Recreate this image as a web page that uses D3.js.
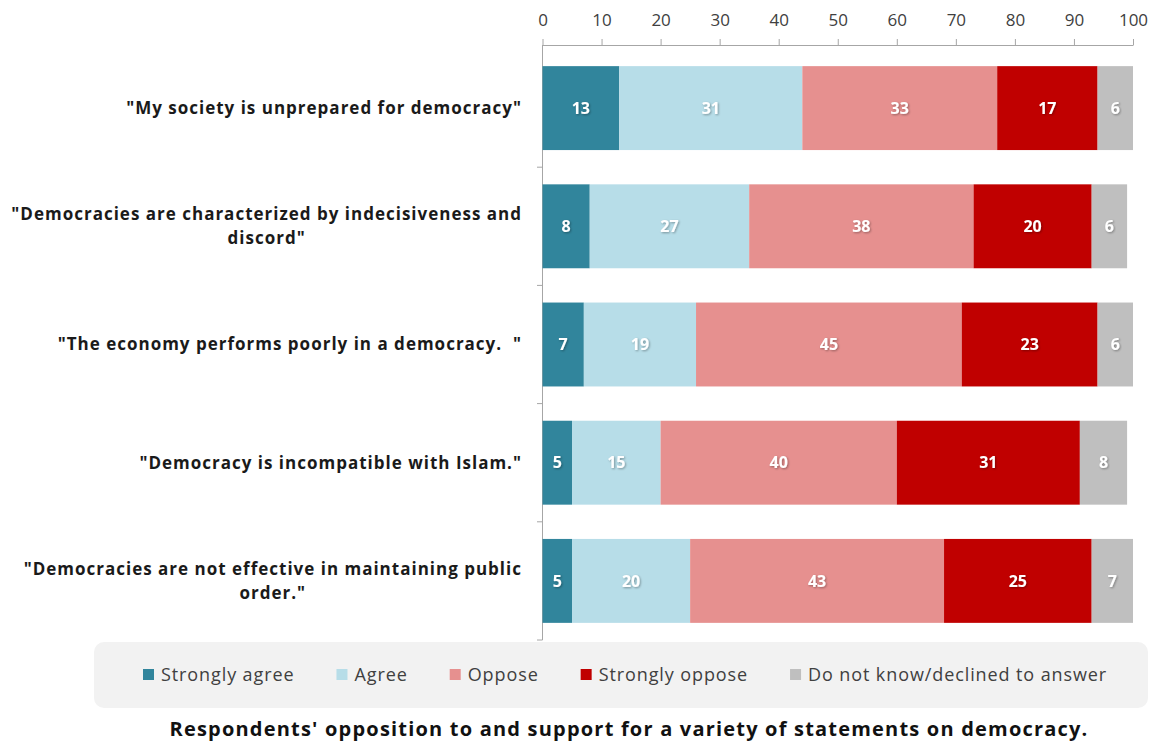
<!DOCTYPE html>
<html>
<head>
<meta charset="utf-8">
<script src="https://cdn.jsdelivr.net/npm/d3@7"></script>
<style>
  html, body { margin: 0; padding: 0; background: #fff; }
  svg { display: block; }
</style>
</head>
<body>
<svg id="chart" width="1158" height="742"></svg>
<script>
// Survey statements (one bar each)
const statements = [
  ["\"My society is unprepared for democracy\""],
  ["\"Democracies are characterized by indecisiveness and", "discord\""],
  ["\"The economy performs poorly in a democracy.  \""],
  ["\"Democracy is incompatible with Islam.\""],
  ["\"Democracies are not effective in maintaining public", "order.\""]
];

// Response categories, in stacking order
const responses = ["Strongly agree", "Agree", "Oppose", "Strongly oppose", "Do not know/declined to answer"];
const responseColors = ["#31859c", "#b7dde8", "#e6908f", "#c00000", "#bfbfbf"];

// Percent of respondents per response, one array per response, aligned with statements
const stronglyAgree  = [13, 8, 7, 5, 5];
const agree          = [31, 27, 19, 15, 20];
const oppose         = [33, 38, 45, 40, 43];
const stronglyOppose = [17, 20, 23, 31, 25];
const dontKnow       = [6, 6, 6, 8, 7];

const xTicks = [0, 10, 20, 30, 40, 50, 60, 70, 80, 90, 100];

const title = "Respondents' opposition to and support for a variety of statements on democracy.";

const seriesValues = [stronglyAgree, agree, oppose, stronglyOppose, dontKnow];

const rows = statements.map((s, i) => {
  const r = { idx: i };
  responses.forEach((k, j) => r[k] = seriesValues[j][i]);
  return r;
});

const stack = d3.stack().keys(responses);
const layers = stack(rows);

const svg = d3.select("#chart");
const font = "'Open Sans', 'Noto Sans', sans-serif";

const x = d3.scaleLinear().domain([0, 100]).range([542.5, 1133]);
const y = d3.scaleBand().domain(d3.range(statements.length)).range([49, 640])
  .paddingInner(0.29).paddingOuter(0.145);
const color = d3.scaleOrdinal().domain(responses).range(responseColors);

// Text shadow used on the value labels
const defs = svg.append("defs");
const f = defs.append("filter").attr("id", "shadow").attr("x", "-20%").attr("y", "-20%")
  .attr("width", "140%").attr("height", "140%");
f.append("feDropShadow").attr("dx", 1).attr("dy", 1).attr("stdDeviation", 0.8)
  .attr("flood-color", "#000").attr("flood-opacity", 0.35);

// Top axis
const xAxis = svg.append("g").attr("transform", "translate(0,45)")
  .call(d3.axisTop(x).tickValues(xTicks).tickSize(6).tickSizeOuter(0).tickPadding(13));
xAxis.select(".domain").attr("stroke", "#a6a6a6");
xAxis.selectAll(".tick line").attr("stroke", "#a6a6a6");
xAxis.selectAll(".tick text").attr("font-family", font).attr("font-size", 17)
  .attr("fill", "#404040");

// Left category axis (band boundary ticks only)
const yAxisG = svg.append("g");
yAxisG.append("line").attr("x1", 542.5).attr("x2", 542.5).attr("y1", 45).attr("y2", 640)
  .attr("stroke", "#a6a6a6");
const boundaries = d3.range(statements.length + 1).map(i => 49 + i * y.step());
yAxisG.selectAll("line.b").data(boundaries.slice(1)).join("line").attr("class", "b")
  .attr("x1", 537).attr("x2", 542.5).attr("y1", d => d).attr("y2", d => d)
  .attr("stroke", "#a6a6a6");

// Stacked bars
const g = svg.append("g");
layers.forEach(layer => {
  g.selectAll(null).data(layer).join("rect")
    .attr("x", d => x(d[0]))
    .attr("width", d => x(d[1]) - x(d[0]))
    .attr("y", (d, i) => y(i))
    .attr("height", y.bandwidth())
    .attr("fill", color(layer.key));
});

// Value labels
layers.forEach(layer => {
  g.selectAll(null).data(layer).join("text")
    .attr("x", d => (x(d[0]) + x(d[1])) / 2)
    .attr("y", (d, i) => y(i) + y.bandwidth() / 2)
    .attr("dy", "0.35em")
    .attr("text-anchor", "middle")
    .attr("font-family", font).attr("font-weight", "bold").attr("font-size", 16)
    .attr("fill", "#fff")
    .attr("filter", "url(#shadow)")
    .text(d => d.data[layer.key]);
});

// Statement labels: lines centred on each other, block right-aligned
const labelRight = 522;
statements.forEach((lines, i) => {
  const cy = y(i) + y.bandwidth() / 2;
  const lh = 24;
  const grp = svg.append("g");
  const texts = lines.map((ln, k) => grp.append("text")
    .attr("y", cy + (k - (lines.length - 1) / 2) * lh)
    .attr("dy", "0.35em")
    .attr("font-family", font).attr("font-weight", "bold").attr("font-size", 17)
    .attr("letter-spacing", 1)
    .attr("fill", "#1a1a1a")
    .attr("text-anchor", "middle")
    .attr("xml:space", "preserve")
    .text(ln));
  const maxW = d3.max(texts, t => t.node().getComputedTextLength());
  texts.forEach(t => t.attr("x", labelRight - maxW / 2));
});

// Legend
const lg = svg.append("g");
lg.append("rect").attr("x", 94).attr("y", 642).attr("width", 1054).attr("height", 66)
  .attr("rx", 10).attr("fill", "#f2f2f2");
let lx = 143;
responses.forEach((r, i) => {
  lg.append("rect").attr("x", lx).attr("y", 669).attr("width", 11).attr("height", 11)
    .attr("fill", color(r));
  const t = lg.append("text").attr("x", lx + 18).attr("y", 675).attr("dy", "0.35em")
    .attr("font-family", font).attr("font-size", 18).attr("letter-spacing", 0.9)
    .attr("fill", "#404040").text(r);
  lx += 18 + t.node().getComputedTextLength() + 42;
});

// Caption
svg.append("text").attr("x", 629).attr("y", 729).attr("dy", "0.35em")
  .attr("text-anchor", "middle")
  .attr("font-family", font).attr("font-weight", "bold").attr("font-size", 20)
  .attr("letter-spacing", 1.2)
  .attr("fill", "#111").text(title);
</script>
</body>
</html>
